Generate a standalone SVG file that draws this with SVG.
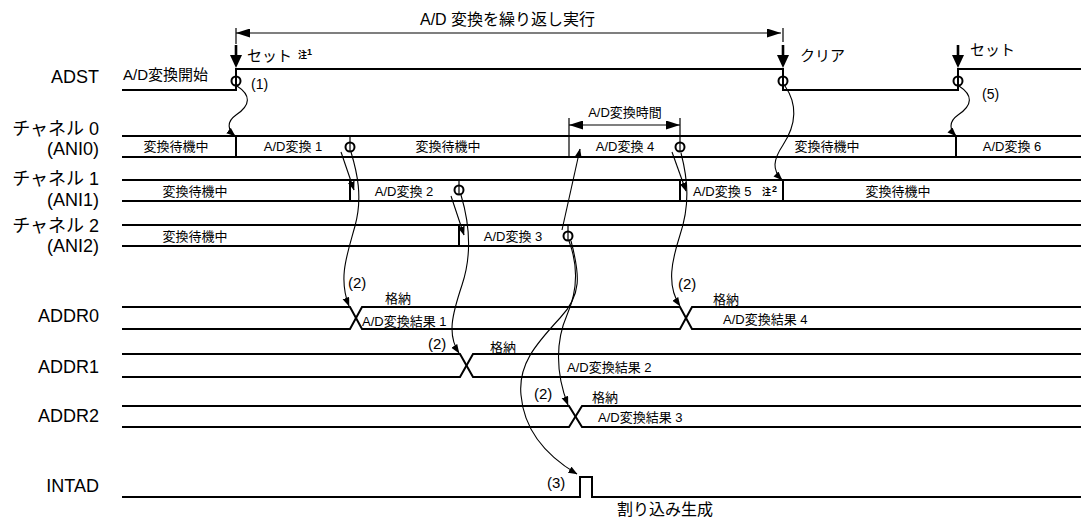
<svg xmlns="http://www.w3.org/2000/svg" width="1081" height="517" viewBox="0 0 1081 517">
<style>
text{font-family:"Liberation Sans","Noto Sans CJK JP",sans-serif;fill:#000}
.lbl{font-size:18px;text-anchor:end}
.s13{font-size:13px}
.m13{font-size:13px;text-anchor:middle}
.s15{font-size:15px}
.s16{font-size:16px}
.note{font-size:9px;font-weight:bold}
.sig{fill:none;stroke:#000;stroke-width:2}
.thin{fill:none;stroke:#000;stroke-width:1.2}
.circ{fill:none;stroke:#000;stroke-width:2}
.cur{fill:none;stroke:#000;stroke-width:1.1}
</style>
<defs>
<marker id="ah" markerUnits="userSpaceOnUse" markerWidth="9" markerHeight="8" refX="8.5" refY="3.5" orient="auto">
<path d="M0,0 L9,3.5 L0,7 z" fill="#000"/>
</marker>
<marker id="ahb" markerUnits="userSpaceOnUse" markerWidth="14" markerHeight="9" refX="14" refY="4.5" orient="auto-start-reverse">
<path d="M0,0 L14,4.5 L0,9 z" fill="#000"/>
</marker>
<g id="downArrow">
<line x1="0" y1="45" x2="0" y2="56" stroke="#000" stroke-width="2.6"/>
<path d="M-6,55 L6,55 L0,68 z" fill="#000"/>
</g>
</defs>

<!-- signal labels -->
<g id="labels">
<text class="lbl" x="99" y="83">ADST</text>
<text class="lbl" x="99" y="135">チャネル 0</text>
<text class="lbl" x="99" y="155">(ANI0)</text>
<text class="lbl" x="99" y="185">チャネル 1</text>
<text class="lbl" x="99" y="206">(ANI1)</text>
<text class="lbl" x="99" y="232">チャネル 2</text>
<text class="lbl" x="99" y="252">(ANI2)</text>
<text class="lbl" x="99" y="322">ADDR0</text>
<text class="lbl" x="99" y="373">ADDR1</text>
<text class="lbl" x="99" y="422">ADDR2</text>
<text class="lbl" x="99" y="492">INTAD</text>
</g>

<g id="adst">
<path class="sig" d="M122,90 H236 V69 H783 V90 H958 V69 H1081"/>
<circle class="circ" cx="236" cy="81" r="4.5"/>
<circle class="circ" cx="783" cy="81" r="4.5"/>
<circle class="circ" cx="958" cy="81" r="4.5"/>
<use href="#downArrow" x="236" y="0"/>
<use href="#downArrow" x="783" y="0"/>
<use href="#downArrow" x="958" y="0"/>
<text class="s15" x="123" y="80">A/D変換開始</text>
<text class="s15" x="247" y="61">セット</text>
<text class="note" x="298" y="58">注</text>
<text class="note" x="307" y="55" font-size="8">1</text>
<text class="s15" x="800" y="61">クリア</text>
<text class="s15" x="970" y="55">セット</text>
<text x="251" y="89" font-size="14">(1)</text>
<text x="982" y="99" font-size="14">(5)</text>
</g>

<g id="repeat">
<line class="thin" x1="236" y1="28" x2="236" y2="44"/>
<line class="thin" x1="783" y1="28" x2="783" y2="42"/>
<line class="thin" x1="236" y1="33" x2="781" y2="33" marker-start="url(#ahb)" marker-end="url(#ahb)"/>
<text class="s16" x="420" y="25">A/D 変換を繰り返し実行</text>
</g>

<g id="ch0">
<path class="sig" d="M122,136 H1081 M122,157 H1081"/>
<path class="sig" d="M236,136 V157 M956,136 V157"/>
<line class="thin" x1="569" y1="118" x2="569" y2="157"/>
<line class="thin" x1="680" y1="118" x2="680" y2="152"/>
<line class="thin" x1="350" y1="136" x2="350" y2="152"/>
<circle class="circ" cx="350" cy="147" r="4.5"/>
<circle class="circ" cx="680" cy="147" r="4.5"/>
<text class="m13" x="176" y="151">変換待機中</text>
<text class="m13" x="293" y="151">A/D変換 1</text>
<text class="m13" x="448" y="151">変換待機中</text>
<text class="m13" x="625" y="151">A/D変換 4</text>
<text class="m13" x="827" y="151">変換待機中</text>
<text class="m13" x="1012" y="151">A/D変換 6</text>
</g>

<g id="convtime">
<line class="thin" x1="569" y1="125" x2="680" y2="125" marker-start="url(#ahb)" marker-end="url(#ahb)"/>
<text class="m13" x="625" y="117">A/D変換時間</text>
</g>

<g id="ch1">
<path class="sig" d="M122,180 H1081 M122,201 H1081"/>
<path class="sig" d="M350,180 V201 M680,180 V201 M783,180 V201"/>
<line class="thin" x1="459" y1="180" x2="459" y2="195"/>
<circle class="circ" cx="459" cy="190" r="4.5"/>
<text class="m13" x="195" y="196">変換待機中</text>
<text class="m13" x="404" y="196">A/D変換 2</text>
<text class="s13" x="693" y="196">A/D変換 5</text>
<text class="note" x="762" y="195">注</text>
<text class="note" x="772" y="192" font-size="8">2</text>
<text class="m13" x="898" y="196">変換待機中</text>
</g>

<g id="ch2">
<path class="sig" d="M122,225 H1081 M122,246 H1081"/>
<path class="sig" d="M459,225 V246"/>
<line class="thin" x1="568" y1="225" x2="568" y2="241"/>
<circle class="circ" cx="568" cy="236" r="4.5"/>
<text class="m13" x="195" y="241">変換待機中</text>
<text class="m13" x="513" y="241">A/D変換 3</text>
</g>

<g id="addr0">
<path class="sig" d="M122,307 H350 L362,329 H680 L692,307 H1081"/>
<path class="sig" d="M122,329 H350 L362,307 H680 L692,329 H1081"/>
<text class="s13" x="385" y="303">格納</text>
<text class="s13" x="362" y="326">A/D変換結果 1</text>
<text class="s13" x="713" y="304">格納</text>
<text class="s13" x="723" y="324">A/D変換結果 4</text>
<text class="s15" x="348" y="288">(2)</text>
<text class="s15" x="678" y="289">(2)</text>
</g>

<g id="addr1">
<path class="sig" d="M122,354 H460 L473,377 H1081"/>
<path class="sig" d="M122,377 H460 L473,354 H1081"/>
<text class="s13" x="490" y="352">格納</text>
<text class="s13" x="567" y="372">A/D変換結果 2</text>
<text class="s15" x="428" y="349">(2)</text>
</g>

<g id="addr2">
<path class="sig" d="M122,406 H569 L582,427 H1081"/>
<path class="sig" d="M122,427 H569 L582,406 H1081"/>
<text class="s13" x="592" y="402">格納</text>
<text class="s13" x="598" y="422">A/D変換結果 3</text>
<text class="s15" x="534" y="399">(2)</text>
</g>

<g id="intad">
<path class="sig" d="M122,497 H580 V477 H592 V497 H1081"/>
<text class="s15" x="547" y="488">(3)</text>
<text class="s16" x="617" y="515">割り込み生成</text>
</g>

<g id="connectors">
<path class="cur" marker-end="url(#ah)" d="M237,86 C251,95 251,105 236,115 C226,122 228,130 235,136"/>
<path class="cur" marker-end="url(#ah)" d="M959,86 C973,95 973,105 958,115 C948,122 950,130 956,136"/>
<path class="cur" marker-end="url(#ah)" d="M785,86 C798,105 796,125 783,145 C773,160 772,170 782,180"/>
<path class="cur" marker-end="url(#ah)" d="M341,152 L354,190"/>
<path class="cur" marker-end="url(#ah)" d="M451,196 L464,235"/>
<path class="cur" marker-end="url(#ah)" d="M672,152 L686,191"/>
<path class="cur" marker-end="url(#ah)" d="M562,230 L580,149"/>
<path class="cur" marker-end="url(#ah)" d="M351,152 C357,172 363,197 355,226 C347,255 338,278 349,306"/>
<path class="cur" marker-end="url(#ah)" d="M461,195 C470,225 472,255 462,285 C452,315 447,335 459,353"/>
<path class="cur" marker-end="url(#ah)" d="M569,241 C578,265 578,290 567,315 C556,340 555,372 568,405"/>
<path class="cur" marker-end="url(#ah)" d="M571,241 C580,275 582,295 560,318 C535,345 518,365 521,395 C524,430 545,455 577,474"/>
<path class="cur" marker-end="url(#ah)" d="M681,153 C688,180 690,205 680,235 C672,260 666,285 680,306"/>
</g>
</svg>
